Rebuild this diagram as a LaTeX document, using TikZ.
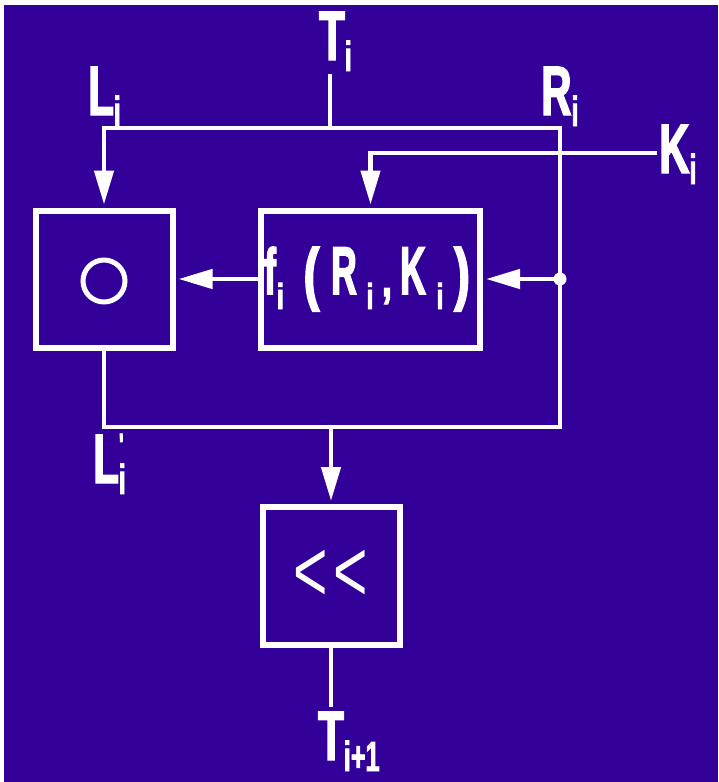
\documentclass[tikz,border=0pt]{standalone}
\usepackage{fontspec}
\usetikzlibrary{arrows.meta}
\newfontfamily\lblfont{Liberation Sans}[FakeStretch=0.6,FakeBold=2]
\newfontfamily\ffont{Liberation Sans}[FakeStretch=0.68,FakeBold=2.5]
\newfontfamily\shfont{Liberation Sans}[FakeStretch=0.67]
\definecolor{bg}{RGB}{51,0,153}
\newcommand\lsub[1]{\raisebox{-11pt}{\fontsize{42pt}{42pt}\selectfont #1}}
\newcommand\fsub[1]{\raisebox{-15pt}{\fontsize{36pt}{36pt}\selectfont #1}}
\newcommand\cbx[2]{\makebox[#1][c]{#2}}
\newcommand\tall[1]{\scalebox{1}[1.3]{#1}}
\newcommand\bigparen[1]{{\fontsize{69pt}{69pt}\selectfont\raisebox{-3pt}{#1}}}
\tikzset{
  box/.style={draw=white, line width=6pt, inner sep=0pt, text=white},
  wire/.style={draw=white, line width=4.5pt, line cap=rect},
  arr/.style={wire, -{Triangle[length=34pt,width=19pt]}, shorten >=3pt},
  lbl/.style={text=white, inner sep=0pt, anchor=base west,
    font=\lblfont\bfseries\fontsize{70pt}{70pt}\selectfont},
}
\begin{document}
\begin{tikzpicture}[x=1pt,y=-1pt]
\useasboundingbox (0,0) rectangle (718,782);
\fill[white] (0,0) rectangle (718,782);
\fill[bg] (4,5) rectangle (718,782);

% boxes
\node[box, minimum width=137pt, minimum height=137pt] (box1) at (104,279) {};
\node[box, minimum width=219pt, minimum height=137pt] (fb) at (370.5,279) {};
\node[box, minimum width=137pt, minimum height=138pt,
      font=\shfont\fontsize{88pt}{88pt}\selectfont] (sh) at (331,576) {<\hspace{5.6pt}<};
\draw[white, line width=5pt] (box1.center) ++(0,2) circle (21pt);

% f label inside the f box
\node[text=white, inner sep=0pt, anchor=base,
      font=\ffont\bfseries\fontsize{52pt}{52pt}\selectfont] (flbl) at (368.5,294)
  {\cbx{34pt}{\hspace{-8pt}\scalebox{1}[1.25]{f}\hspace{1pt}\fsub{i}}%
   \cbx{33pt}{\bigparen{(}}%
   \cbx{32pt}{\tall{R}}\cbx{20pt}{\fsub{i}}\cbx{14pt}{\raisebox{-2pt}{,}}%
   \cbx{38pt}{\tall{K}}\cbx{16pt}{\fsub{i}}\cbx{28pt}{\bigparen{)}}};

% labels
\node[lbl] (Ti) at (319,60) {T\lsub{i}};
\node[lbl] (Li) at (88,115) {L\lsub{i}};
\node[lbl] (Ri) at (541,115) {R\lsub{i}};
\node[lbl] (Ki) at (659,173) {K\lsub{i}};
\node[lbl] (Lp) at (93,483) {L\rlap{\raisebox{26pt}{\fontsize{34pt}{34pt}\selectfont '}}\lsub{i}};
\node[lbl] (To) at (318,760) {T\lsub{i+1}};

% junction points
\coordinate (Tin) at (330,76);
\coordinate (J1) at (330,128);
\coordinate (CL) at (104,128);
\coordinate (CR) at (560,128);
\coordinate (KC) at (370.5,153);
\coordinate (Kend) at (655,153);
\coordinate (dot) at (560,279);
\coordinate (BL) at (104,427);
\coordinate (BR) at (560,427);
\coordinate (BM) at (331,427);
\coordinate (Tout) at (331,705);

% connectors
\draw[wire] (Tin) -- (J1);
\draw[wire, {Triangle[length=34pt,width=19pt]}-, shorten <=3pt]
  (box1.north) -- (CL) -- (CR) -- (BR) -- (BL) -- (box1.south);
\draw[arr] (Kend) -- (KC) -- (fb.north);
\draw[arr] (dot) -- (fb.east);
\draw[arr] (fb.west) -- (box1.east);
\fill[white] (dot) circle (6.5pt);
\draw[arr] (BM) -- (sh.north);
\draw[wire] (sh.south) -- (Tout);
\end{tikzpicture}
\end{document}
